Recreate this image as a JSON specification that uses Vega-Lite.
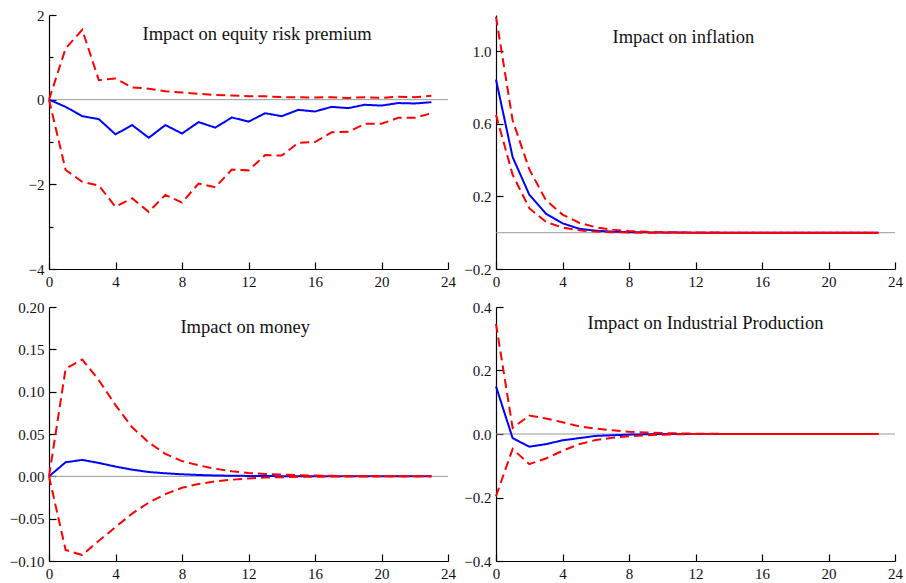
{
  "$schema": "https://vega.github.io/schema/vega-lite/v6.json",
  "padding": {"left": 9, "top": 8, "right": 2, "bottom": 2},
  "background": "white",
  "config": {
    "view": {"stroke": null},
    "axis": {
      "grid": false, "domainColor": "#000", "domainWidth": 1.2,
      "tickColor": "#000", "tickWidth": 1.2, "labelFont": "Liberation Serif",
      "labelFontSize": 15, "labelColor": "#111", "labelPadding": 12,
      "labelFlush": false, "labelOverlap": false
    }
  },
  "datasets": {
    "irf": [
      {"p":"erp","h":0,"irf":0,"up":0,"lo":0},
      {"p":"erp","h":1,"irf":-0.17,"up":1.21,"lo":-1.66},
      {"p":"erp","h":2,"irf":-0.39,"up":1.65,"lo":-1.94},
      {"p":"erp","h":3,"irf":-0.46,"up":0.46,"lo":-2.03},
      {"p":"erp","h":4,"irf":-0.82,"up":0.50,"lo":-2.53},
      {"p":"erp","h":5,"irf":-0.60,"up":0.29,"lo":-2.33},
      {"p":"erp","h":6,"irf":-0.90,"up":0.26,"lo":-2.65},
      {"p":"erp","h":7,"irf":-0.60,"up":0.20,"lo":-2.25},
      {"p":"erp","h":8,"irf":-0.80,"up":0.17,"lo":-2.43},
      {"p":"erp","h":9,"irf":-0.53,"up":0.14,"lo":-1.98},
      {"p":"erp","h":10,"irf":-0.66,"up":0.11,"lo":-2.07},
      {"p":"erp","h":11,"irf":-0.42,"up":0.10,"lo":-1.65},
      {"p":"erp","h":12,"irf":-0.52,"up":0.08,"lo":-1.67},
      {"p":"erp","h":13,"irf":-0.32,"up":0.08,"lo":-1.31},
      {"p":"erp","h":14,"irf":-0.39,"up":0.06,"lo":-1.32},
      {"p":"erp","h":15,"irf":-0.24,"up":0.06,"lo":-1.02},
      {"p":"erp","h":16,"irf":-0.28,"up":0.05,"lo":-1.00},
      {"p":"erp","h":17,"irf":-0.17,"up":0.06,"lo":-0.77},
      {"p":"erp","h":18,"irf":-0.20,"up":0.04,"lo":-0.76},
      {"p":"erp","h":19,"irf":-0.12,"up":0.06,"lo":-0.57},
      {"p":"erp","h":20,"irf":-0.14,"up":0.04,"lo":-0.57},
      {"p":"erp","h":21,"irf":-0.08,"up":0.07,"lo":-0.43},
      {"p":"erp","h":22,"irf":-0.09,"up":0.06,"lo":-0.43},
      {"p":"erp","h":23,"irf":-0.06,"up":0.09,"lo":-0.32},

      {"p":"inf","h":0,"irf":0.844,"up":1.19,"lo":0.65},
      {"p":"inf","h":1,"irf":0.417,"up":0.62,"lo":0.32},
      {"p":"inf","h":2,"irf":0.21,"up":0.35,"lo":0.135},
      {"p":"inf","h":3,"irf":0.105,"up":0.18,"lo":0.06},
      {"p":"inf","h":4,"irf":0.052,"up":0.10,"lo":0.028},
      {"p":"inf","h":5,"irf":0.022,"up":0.055,"lo":0.013},
      {"p":"inf","h":6,"irf":0.011,"up":0.03,"lo":0.006},
      {"p":"inf","h":7,"irf":0.006,"up":0.017,"lo":0.003},
      {"p":"inf","h":8,"irf":0.003,"up":0.009,"lo":0.001},
      {"p":"inf","h":9,"irf":0.002,"up":0.005,"lo":0},
      {"p":"inf","h":10,"irf":0.001,"up":0.003,"lo":0},
      {"p":"inf","h":11,"irf":0.001,"up":0.002,"lo":0},
      {"p":"inf","h":12,"irf":0,"up":0.001,"lo":0},
      {"p":"inf","h":13,"irf":0,"up":0.001,"lo":0},
      {"p":"inf","h":14,"irf":0,"up":0,"lo":0},
      {"p":"inf","h":15,"irf":0,"up":0,"lo":0},
      {"p":"inf","h":16,"irf":0,"up":0,"lo":0},
      {"p":"inf","h":17,"irf":0,"up":0,"lo":0},
      {"p":"inf","h":18,"irf":0,"up":0,"lo":0},
      {"p":"inf","h":19,"irf":0,"up":0,"lo":0},
      {"p":"inf","h":20,"irf":0,"up":0,"lo":0},
      {"p":"inf","h":21,"irf":0,"up":0,"lo":0},
      {"p":"inf","h":22,"irf":0,"up":0,"lo":0},
      {"p":"inf","h":23,"irf":0,"up":0,"lo":0},

      {"p":"money","h":0,"irf":0,"up":0,"lo":0},
      {"p":"money","h":1,"irf":0.0166,"up":0.127,"lo":-0.087},
      {"p":"money","h":2,"irf":0.0194,"up":0.138,"lo":-0.093},
      {"p":"money","h":3,"irf":0.0158,"up":0.1135,"lo":-0.076},
      {"p":"money","h":4,"irf":0.0115,"up":0.084,"lo":-0.060},
      {"p":"money","h":5,"irf":0.0079,"up":0.058,"lo":-0.044},
      {"p":"money","h":6,"irf":0.0051,"up":0.040,"lo":-0.031},
      {"p":"money","h":7,"irf":0.0036,"up":0.0265,"lo":-0.021},
      {"p":"money","h":8,"irf":0.0024,"up":0.018,"lo":-0.0135},
      {"p":"money","h":9,"irf":0.0016,"up":0.013,"lo":-0.009},
      {"p":"money","h":10,"irf":0.001,"up":0.009,"lo":-0.006},
      {"p":"money","h":11,"irf":0.0007,"up":0.006,"lo":-0.004},
      {"p":"money","h":12,"irf":0.0005,"up":0.004,"lo":-0.0025},
      {"p":"money","h":13,"irf":0.0003,"up":0.0028,"lo":-0.0015},
      {"p":"money","h":14,"irf":0.0002,"up":0.002,"lo":-0.001},
      {"p":"money","h":15,"irf":0.0001,"up":0.0013,"lo":-0.0006},
      {"p":"money","h":16,"irf":0.0001,"up":0.0009,"lo":-0.0004},
      {"p":"money","h":17,"irf":0,"up":0.0006,"lo":-0.0002},
      {"p":"money","h":18,"irf":0,"up":0.0004,"lo":-0.0001},
      {"p":"money","h":19,"irf":0,"up":0.0003,"lo":-0.0001},
      {"p":"money","h":20,"irf":0,"up":0.0002,"lo":0},
      {"p":"money","h":21,"irf":0,"up":0.0001,"lo":0},
      {"p":"money","h":22,"irf":0,"up":0.0001,"lo":0},
      {"p":"money","h":23,"irf":0,"up":0.0001,"lo":0},

      {"p":"ip","h":0,"irf":0.15,"up":0.347,"lo":-0.196},
      {"p":"ip","h":1,"irf":-0.013,"up":0.019,"lo":-0.047},
      {"p":"ip","h":2,"irf":-0.04,"up":0.058,"lo":-0.095},
      {"p":"ip","h":3,"irf":-0.032,"up":0.049,"lo":-0.077},
      {"p":"ip","h":4,"irf":-0.02,"up":0.037,"lo":-0.053},
      {"p":"ip","h":5,"irf":-0.013,"up":0.024,"lo":-0.032},
      {"p":"ip","h":6,"irf":-0.006,"up":0.017,"lo":-0.019},
      {"p":"ip","h":7,"irf":-0.004,"up":0.012,"lo":-0.012},
      {"p":"ip","h":8,"irf":-0.002,"up":0.007,"lo":-0.007},
      {"p":"ip","h":9,"irf":-0.001,"up":0.005,"lo":-0.004},
      {"p":"ip","h":10,"irf":0,"up":0.003,"lo":-0.002},
      {"p":"ip","h":11,"irf":0,"up":0.002,"lo":-0.001},
      {"p":"ip","h":12,"irf":0,"up":0.001,"lo":0},
      {"p":"ip","h":13,"irf":0,"up":0.001,"lo":0},
      {"p":"ip","h":14,"irf":0,"up":0,"lo":0},
      {"p":"ip","h":15,"irf":0,"up":0,"lo":0},
      {"p":"ip","h":16,"irf":0,"up":0,"lo":0},
      {"p":"ip","h":17,"irf":0,"up":0,"lo":0},
      {"p":"ip","h":18,"irf":0,"up":0,"lo":0},
      {"p":"ip","h":19,"irf":0,"up":0,"lo":0},
      {"p":"ip","h":20,"irf":0,"up":0,"lo":0},
      {"p":"ip","h":21,"irf":0,"up":0,"lo":0},
      {"p":"ip","h":22,"irf":0,"up":0,"lo":0},
      {"p":"ip","h":23,"irf":0,"up":0,"lo":0}
    ],
    "titles": [
      {"p":"erp","tx":12.52,"ty":1.54,"label":"Impact on equity risk premium"},
      {"p":"inf","tx":11.27,"ty":1.079,"label":"Impact on inflation"},
      {"p":"money","tx":11.8,"ty":0.176,"label":"Impact on money"},
      {"p":"ip","tx":12.6,"ty":0.351,"label":"Impact on Industrial Production"}
    ]
  },
  "columns": 2,
  "bounds": "flush",
  "spacing": {"row": 38, "column": 48},
  "concat": [
    {
      "width": 399, "height": 254,
      "layer": [
        {"data": {"values": [{}]}, "mark": {"type": "rule", "color": "#999", "strokeWidth": 1}, "encoding": {"y": {"datum": 0, "type": "quantitative", "title": null}}},
        {"data": {"name": "irf"}, "transform": [{"filter": "datum.p == 'erp'"}, {"fold": ["irf", "up", "lo"], "as": ["s", "v"]}],
         "mark": {"type": "line", "strokeWidth": 2},
         "encoding": {
           "x": {"field": "h", "type": "quantitative", "title": null, "scale": {"domain": [0, 24], "nice": false}, "axis": {"values": [0,2,4,6,8,10,12,14,16,18,20,22,24], "format": "d", "labelExpr": "datum.value % 4 == 0 ? datum.label : ''", "tickSize": {"condition": {"test": "datum.value % 4 == 0", "value": -7}, "value": -4}}},
           "y": {"field": "v", "type": "quantitative", "title": null, "scale": {"domain": [-4, 2], "nice": false, "zero": false}, "axis": {"values": [-4,-3,-2,-1,0,1,2], "format": "d", "labelExpr": "datum.value % 2 == 0 ? datum.label : ''", "tickSize": {"condition": {"test": "datum.value % 2 == 0", "value": -7}, "value": -4}}},
           "color": {"field": "s", "type": "nominal", "scale": {"domain": ["irf", "up", "lo"], "range": ["#0000ff", "#ff0000", "#ff0000"]}, "legend": null},
           "strokeDash": {"field": "s", "type": "nominal", "scale": {"domain": ["irf", "up", "lo"], "range": [[1, 0], [9, 5], [9, 5]]}, "legend": null}
         }},
        {"data": {"name": "titles"}, "transform": [{"filter": "datum.p == 'erp'"}],
         "mark": {"type": "text", "font": "Liberation Serif", "fontSize": 18.5, "color": "#111", "align": "center", "baseline": "middle"},
         "encoding": {"x": {"field": "tx", "type": "quantitative", "title": null}, "y": {"field": "ty", "type": "quantitative", "title": null}, "text": {"field": "label"}}}
      ]
    },
    {
      "width": 399, "height": 254,
      "layer": [
        {"data": {"values": [{}]}, "mark": {"type": "rule", "color": "#999", "strokeWidth": 1}, "encoding": {"y": {"datum": 0, "type": "quantitative", "title": null}}},
        {"data": {"name": "irf"}, "transform": [{"filter": "datum.p == 'inf'"}, {"fold": ["irf", "up", "lo"], "as": ["s", "v"]}],
         "mark": {"type": "line", "strokeWidth": 2},
         "encoding": {
           "x": {"field": "h", "type": "quantitative", "title": null, "scale": {"domain": [0, 24], "nice": false}, "axis": {"values": [0,2,4,6,8,10,12,14,16,18,20,22,24], "format": "d", "labelExpr": "datum.value % 4 == 0 ? datum.label : ''", "tickSize": {"condition": {"test": "datum.value % 4 == 0", "value": -7}, "value": -4}}},
           "y": {"field": "v", "type": "quantitative", "title": null, "scale": {"domain": [-0.2, 1.2], "nice": false, "zero": false}, "axis": {"values": [-0.2,0,0.2,0.4,0.6,0.8,1.0,1.2], "format": ".1f", "labelExpr": "abs(round(datum.value*10)) % 4 == 2 ? datum.label : ''", "tickSize": {"condition": {"test": "abs(round(datum.value*10)) % 4 == 2", "value": -7}, "value": -4}}},
           "color": {"field": "s", "type": "nominal", "scale": {"domain": ["irf", "up", "lo"], "range": ["#0000ff", "#ff0000", "#ff0000"]}, "legend": null},
           "strokeDash": {"field": "s", "type": "nominal", "scale": {"domain": ["irf", "up", "lo"], "range": [[1, 0], [9, 5], [9, 5]]}, "legend": null}
         }},
        {"data": {"name": "titles"}, "transform": [{"filter": "datum.p == 'inf'"}],
         "mark": {"type": "text", "font": "Liberation Serif", "fontSize": 18.5, "color": "#111", "align": "center", "baseline": "middle"},
         "encoding": {"x": {"field": "tx", "type": "quantitative", "title": null}, "y": {"field": "ty", "type": "quantitative", "title": null}, "text": {"field": "label"}}}
      ]
    },
    {
      "width": 399, "height": 254,
      "layer": [
        {"data": {"values": [{}]}, "mark": {"type": "rule", "color": "#999", "strokeWidth": 1}, "encoding": {"y": {"datum": 0, "type": "quantitative", "title": null}}},
        {"data": {"name": "irf"}, "transform": [{"filter": "datum.p == 'money'"}, {"fold": ["irf", "up", "lo"], "as": ["s", "v"]}],
         "mark": {"type": "line", "strokeWidth": 2},
         "encoding": {
           "x": {"field": "h", "type": "quantitative", "title": null, "scale": {"domain": [0, 24], "nice": false}, "axis": {"values": [0,2,4,6,8,10,12,14,16,18,20,22,24], "format": "d", "labelExpr": "datum.value % 4 == 0 ? datum.label : ''", "tickSize": {"condition": {"test": "datum.value % 4 == 0", "value": -7}, "value": -4}}},
           "y": {"field": "v", "type": "quantitative", "title": null, "scale": {"domain": [-0.1, 0.2], "nice": false, "zero": false}, "axis": {"values": [-0.1,-0.075,-0.05,-0.025,0,0.025,0.05,0.075,0.1,0.125,0.15,0.175,0.2], "format": ".2f", "labelExpr": "abs(round(datum.value*1000)) % 50 == 0 ? datum.label : ''", "tickSize": {"condition": {"test": "abs(round(datum.value*1000)) % 50 == 0", "value": -7}, "value": -4}}},
           "color": {"field": "s", "type": "nominal", "scale": {"domain": ["irf", "up", "lo"], "range": ["#0000ff", "#ff0000", "#ff0000"]}, "legend": null},
           "strokeDash": {"field": "s", "type": "nominal", "scale": {"domain": ["irf", "up", "lo"], "range": [[1, 0], [9, 5], [9, 5]]}, "legend": null}
         }},
        {"data": {"name": "titles"}, "transform": [{"filter": "datum.p == 'money'"}],
         "mark": {"type": "text", "font": "Liberation Serif", "fontSize": 18.5, "color": "#111", "align": "center", "baseline": "middle"},
         "encoding": {"x": {"field": "tx", "type": "quantitative", "title": null}, "y": {"field": "ty", "type": "quantitative", "title": null}, "text": {"field": "label"}}}
      ]
    },
    {
      "width": 399, "height": 254,
      "layer": [
        {"data": {"values": [{}]}, "mark": {"type": "rule", "color": "#999", "strokeWidth": 1}, "encoding": {"y": {"datum": 0, "type": "quantitative", "title": null}}},
        {"data": {"name": "irf"}, "transform": [{"filter": "datum.p == 'ip'"}, {"fold": ["irf", "up", "lo"], "as": ["s", "v"]}],
         "mark": {"type": "line", "strokeWidth": 2},
         "encoding": {
           "x": {"field": "h", "type": "quantitative", "title": null, "scale": {"domain": [0, 24], "nice": false}, "axis": {"values": [0,2,4,6,8,10,12,14,16,18,20,22,24], "format": "d", "labelExpr": "datum.value % 4 == 0 ? datum.label : ''", "tickSize": {"condition": {"test": "datum.value % 4 == 0", "value": -7}, "value": -4}}},
           "y": {"field": "v", "type": "quantitative", "title": null, "scale": {"domain": [-0.4, 0.4], "nice": false, "zero": false}, "axis": {"values": [-0.4,-0.3,-0.2,-0.1,0,0.1,0.2,0.3,0.4], "format": ".1f", "labelExpr": "abs(round(datum.value*10)) % 2 == 0 ? datum.label : ''", "tickSize": {"condition": {"test": "abs(round(datum.value*10)) % 2 == 0", "value": -7}, "value": -4}}},
           "color": {"field": "s", "type": "nominal", "scale": {"domain": ["irf", "up", "lo"], "range": ["#0000ff", "#ff0000", "#ff0000"]}, "legend": null},
           "strokeDash": {"field": "s", "type": "nominal", "scale": {"domain": ["irf", "up", "lo"], "range": [[1, 0], [9, 5], [9, 5]]}, "legend": null}
         }},
        {"data": {"name": "titles"}, "transform": [{"filter": "datum.p == 'ip'"}],
         "mark": {"type": "text", "font": "Liberation Serif", "fontSize": 18.5, "color": "#111", "align": "center", "baseline": "middle"},
         "encoding": {"x": {"field": "tx", "type": "quantitative", "title": null}, "y": {"field": "ty", "type": "quantitative", "title": null}, "text": {"field": "label"}}}
      ]
    }
  ]
}
